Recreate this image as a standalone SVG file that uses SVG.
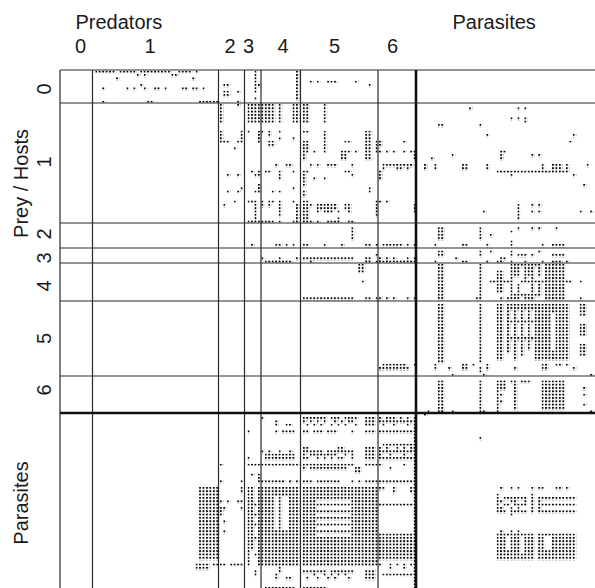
<svg xmlns="http://www.w3.org/2000/svg" width="595" height="588" viewBox="0 0 595 588">
<style>
text{font-family:"Liberation Sans",Arial,sans-serif;font-size:20px;fill:#1a1a1a}
.thin{stroke:#2a2a2a;stroke-width:1.2;fill:none}
.thick{stroke:#111;stroke-width:2.6;fill:none}
</style>
<defs>
<pattern id="dot" patternUnits="userSpaceOnUse" width="1" height="1"><rect width=".53" height=".55" fill="#000"/></pattern>
</defs>
<rect width="595" height="588" fill="#fff"/>
<g id="labels">
<text x="75.5" y="29">Predators</text>
<text x="452.5" y="29">Parasites</text>
<g text-anchor="middle">
<text x="80.5" y="53">0</text>
<text x="150" y="53">1</text>
<text x="230" y="53">2</text>
<text x="248.5" y="53">3</text>
<text x="283" y="53">4</text>
<text x="334.5" y="53">5</text>
<text x="392.5" y="53">6</text>
<text transform="translate(51,89) rotate(-90)">0</text>
<text transform="translate(51,162) rotate(-90)">1</text>
<text transform="translate(51,234) rotate(-90)">2</text>
<text transform="translate(51,258) rotate(-90)">3</text>
<text transform="translate(51,286) rotate(-90)">4</text>
<text transform="translate(51,338.5) rotate(-90)">5</text>
<text transform="translate(51,390) rotate(-90)">6</text>
<text transform="translate(28,183.5) rotate(-90)">Prey / Hosts</text>
<text transform="translate(28,503) rotate(-90)">Parasites</text>
</g>
</g>
<g id="interactions" transform="translate(60.7,70.7) scale(3.46,3.33)">
<path fill="url(#dot)" d="M10 0h6v1h-6zM17 0h5v1h-5zM23 0h9v1h-9zM34 0h4v1h-4zM39 0h1v1h-1zM22 1h1v1h-1zM24 1h1v1h-1zM32 1h2v1h-2zM16 2h1v1h-1zM38 2h1v1h-1zM23 4h1v1h-1zM12 5h1v1h-1zM19 5h1v1h-1zM21 5h1v1h-1zM24 5h1v1h-1zM27 5h2v1h-2zM30 5h1v1h-1zM35 5h2v1h-2zM38 5h2v1h-2zM41 5h1v1h-1zM12 9h1v1h-1zM25 9h2v1h-2zM40 9h6v1h-6zM47 4h2v1h-2zM47 6h2v2h-2zM51 6h1v1h-1zM51 9h1v2h-1zM56 0h1v7h-1zM56 8h1v1h-1zM57 4h1v1h-1zM68 0h1v9h-1zM72 3h1v1h-1zM74 3h1v1h-1zM77 3h3v1h-3zM85 3h1v1h-1zM89 4h1v1h-1z
M46 10h1v6h-1zM46 18h1v4h-1zM47 21h2v1h-2zM50 23h1v1h-1zM51 21h1v1h-1zM52 18h1v4h-1zM48 31h1v1h-1zM51 31h1v1h-1zM48 36h1v1h-1zM51 36h1v1h-1zM52 35h1v1h-1zM50 39h1v1h-1zM47 40h1v1h-1zM54 10h8v6h-8zM63 10h1v6h-1zM67 10h2v6h-2zM70 10h2v6h-2zM76 10h1v6h-1zM76 18h1v7h-1zM54 18h1v1h-1zM57 18h1v4h-1zM58 18h1v1h-1zM60 18h1v2h-1zM60 21h2v2h-2zM63 18h1v1h-1zM63 20h1v1h-1zM67 20h1v1h-1zM70 18h2v1h-2zM70 21h2v4h-2zM70 25h1v2h-1zM73 24h1v1h-1zM82 21h2v1h-2zM81 24h3v1h-3zM85 24h1v1h-1zM81 25h2v2h-2zM88 18h2v9h-2zM91 21h1v4h-1zM92 21h1v2h-1zM92 24h1v1h-1zM94 24h1v1h-1zM96 24h1v1h-1zM99 21h1v1h-1zM99 24h1v1h-1zM101 24h1v1h-1zM102 24h1v3h-1z
M62 28h1v1h-1zM65 28h2v1h-2zM72 28h1v1h-1zM74 28h1v1h-1zM77 28h3v1h-3zM84 28h1v1h-1zM93 28h9v1h-9zM93 29h1v1h-1zM97 29h2v1h-2zM100 29h1v1h-1zM55 30h1v1h-1zM57 30h1v1h-1zM59 30h2v1h-2zM63 30h1v3h-1zM67 30h1v1h-1zM70 30h2v1h-2zM82 30h2v1h-2zM92 30h1v3h-1zM56 31h2v1h-2zM70 31h1v4h-1zM84 31h1v1h-1zM73 32h1v1h-1zM76 32h1v1h-1zM57 34h1v3h-1zM56 36h1v1h-1zM61 36h1v1h-1zM63 36h1v1h-1zM67 35h1v1h-1zM70 36h1v2h-1zM89 35h1v2h-1z
M54 39h2v1h-2zM56 39h1v6h-1zM58 39h1v2h-1zM60 39h1v2h-1zM61 39h1v1h-1zM63 39h1v5h-1zM67 39h1v1h-1zM68 40h1v5h-1zM70 39h2v7h-2zM72 40h1v1h-1zM74 40h6v2h-6zM82 40h2v2h-2zM74 42h1v1h-1zM76 42h3v1h-3zM80 42h1v1h-1zM83 42h1v1h-1zM80 44h1v1h-1zM91 39h1v5h-1zM92 39h1v1h-1zM94 39h1v1h-1zM102 40h1v3h-1zM54 45h8v1h-8zM63 45h1v1h-1zM67 45h2v1h-2zM72 45h1v1h-1zM74 45h1v1h-1zM77 45h3v1h-3zM80 45h1v1h-1zM83 45h2v1h-2z
M118 11h1v1h-1zM132 11h1v1h-1zM134 11h1v1h-1zM130 14h1v1h-1zM132 14h1v1h-1zM134 14h1v2h-1zM109 16h2v1h-2zM121 16h1v1h-1zM123 19h1v1h-1zM148 19h1v1h-1zM147 21h1v1h-1zM127 24h2v1h-2zM127 25h1v2h-1zM113 25h1v1h-1zM136 25h1v1h-1zM138 25h1v1h-1zM107 26h1v1h-1zM105 28h1v2h-1zM108 28h1v2h-1zM116 28h2v2h-2zM123 28h1v2h-1zM139 28h1v2h-1zM142 28h3v2h-3zM146 28h1v2h-1zM152 28h1v1h-1zM126 30h21v1h-21zM130 31h1v1h-1zM148 31h1v1h-1zM151 34h1v1h-1zM132 40h1v5h-1zM136 40h1v1h-1zM138 40h1v1h-1zM136 42h1v1h-1zM138 42h1v1h-1zM122 42h1v1h-1zM150 42h1v1h-1zM153 42h1v1h-1z
M84 47h1v4h-1zM55 52h1v1h-1zM62 52h2v1h-2zM65 52h1v1h-1zM67 52h1v1h-1zM70 52h2v1h-2zM76 52h1v1h-1zM81 52h1v1h-1zM88 52h2v1h-2zM91 52h1v1h-1zM93 52h6v1h-6zM100 52h1v1h-1zM102 52h1v1h-1zM109 47h2v4h-2zM121 47h1v4h-1zM124 49h1v1h-1zM130 48h1v1h-1zM130 51h1v1h-1zM132 47h1v1h-1zM136 47h1v1h-1zM138 47h1v1h-1zM143 47h1v1h-1zM108 52h1v1h-1zM116 52h2v1h-2zM123 52h1v1h-1zM130 52h1v1h-1zM139 52h1v1h-1zM142 52h4v1h-4z
M58 56h1v1h-1zM63 56h1v1h-1zM68 56h1v1h-1zM70 56h15v1h-15zM88 56h2v1h-2zM92 56h1v1h-1zM94 56h1v1h-1zM96 56h1v1h-1zM100 56h1v1h-1zM102 56h1v1h-1zM59 57h8v1h-8zM72 57h1v1h-1zM88 57h2v1h-2zM91 57h12v1h-12zM91 55h1v1h-1zM109 54h2v2h-2zM121 54h1v2h-1zM114 56h1v1h-1zM124 54h1v1h-1zM130 54h1v2h-1zM132 55h3v1h-3zM136 55h1v1h-1zM138 54h1v1h-1zM142 55h4v1h-4zM127 56h2v1h-2zM108 57h1v1h-1zM116 57h2v1h-2zM123 57h1v1h-1zM126 57h2v1h-2zM130 57h1v1h-1zM134 57h1v1h-1zM139 57h1v1h-1zM142 57h3v1h-3zM146 57h1v1h-1z
M86 58h2v3h-2zM87 63h1v1h-1zM70 68h15v1h-15zM88 68h2v1h-2zM91 68h2v1h-2zM94 68h1v1h-1zM96 68h1v1h-1zM100 68h1v1h-1zM102 68h1v1h-1zM109 58h2v11h-2zM121 58h1v11h-1zM126 60h1v7h-1zM127 60h1v3h-1zM127 64h1v3h-1zM130 58h1v11h-1zM131 58h8v1h-8zM131 59h2v3h-2zM134 59h3v3h-3zM138 59h1v3h-1zM134 62h1v1h-1zM136 62h1v1h-1zM124 63h7v1h-7zM133 63h6v1h-6zM139 63h9v1h-9zM150 63h1v1h-1zM132 64h1v3h-1zM136 64h1v3h-1zM138 64h1v3h-1zM131 67h8v1h-8zM140 58h6v10h-6zM120 68h1v1h-1zM127 68h1v1h-1zM129 68h4v1h-4zM134 68h3v1h-3zM140 68h6v1h-6zM150 68h1v1h-1z
M93 88h7v1h-7zM92 89h9v1h-9zM102 88h1v1h-1zM109 70h2v18h-2zM121 70h1v18h-1zM126 70h2v17h-2zM129 70h1v15h-1zM130 70h9v2h-9zM131 72h1v15h-1zM133 72h1v14h-1zM135 72h1v12h-1zM137 72h2v15h-2zM130 75h8v1h-8zM130 80h8v1h-8zM139 70h3v17h-3zM143 70h4v17h-4zM142 70h1v3h-1zM142 84h1v3h-1zM150 70h2v4h-2zM150 76h2v4h-2zM150 82h2v4h-2zM108 88h1v2h-1zM112 89h1v1h-1zM116 88h2v2h-2zM119 88h1v1h-1zM121 89h1v2h-1zM123 88h1v2h-1zM131 89h1v1h-1zM139 88h2v2h-2zM143 88h2v1h-2zM146 88h1v1h-1zM148 89h1v1h-1zM113 91h1v1h-1zM122 91h1v1h-1zM153 91h1v1h-1z
M109 93h2v10h-2zM121 93h1v10h-1zM126 93h1v10h-1zM127 93h2v3h-2zM127 97h1v1h-1zM127 99h1v1h-1zM130 93h2v1h-2zM133 93h3v1h-3zM131 94h1v8h-1zM139 93h7v9h-7zM151 95h1v1h-1zM151 97h1v1h-1zM151 100h1v1h-1zM106 102h1v1h-1zM113 102h1v1h-1zM122 102h1v1h-1zM153 102h1v1h-1z
M40 125h6v22h-6zM39 148h4v2h-4zM44 148h2v1h-2zM46 118h1v1h-1zM46 123h1v1h-1zM52 123h1v1h-1zM46 129h1v1h-1zM48 129h1v1h-1zM51 129h2v1h-2zM47 131h1v1h-1zM46 131h1v3h-1zM47 135h1v1h-1zM47 138h1v1h-1zM52 125h1v2h-1zM52 131h1v1h-1zM46 148h2v1h-2zM49 148h4v1h-4z
M54 108h1v1h-1zM54 116h1v1h-1zM54 118h4v1h-4zM55 121h1v1h-1zM57 121h1v3h-1zM54 125h1v24h-1zM55 125h1v19h-1zM57 125h1v24h-1zM56 130h1v1h-1zM56 133h1v1h-1zM56 136h1v1h-1zM56 140h1v1h-1zM56 145h1v1h-1zM56 150h1v2h-1z
M58 104h1v1h-1zM62 105h1v2h-1zM65 106h2v1h-2zM62 108h1v1h-1zM64 108h4v1h-4zM58 114h1v1h-1zM60 114h1v1h-1zM63 114h1v1h-1zM66 114h1v1h-1zM59 115h9v2h-9zM58 118h11v1h-11zM58 123h7v1h-7zM66 123h1v1h-1zM68 123h1v1h-1zM58 125h4v24h-4zM62 125h4v3h-4zM63 128h1v10h-1zM62 138h4v11h-4zM66 125h3v24h-3zM63 149h1v2h-1zM62 151h1v2h-1zM65 152h2v1h-2zM59 155h9v1h-9z
M70 104h7v1h-7zM78 104h3v1h-3zM82 104h4v1h-4zM70 105h1v1h-1zM72 105h1v1h-1zM74 105h1v1h-1zM76 105h1v1h-1zM79 105h1v1h-1zM81 105h1v1h-1zM83 105h2v1h-2zM71 106h1v1h-1zM73 106h1v1h-1zM75 106h1v1h-1zM78 106h1v1h-1zM80 106h1v1h-1zM82 106h1v1h-1zM85 106h1v1h-1zM88 104h3v3h-3zM70 108h2v1h-2zM73 108h3v1h-3zM77 108h3v1h-3zM84 108h1v1h-1zM88 108h3v1h-3zM70 113h2v1h-2zM80 113h2v1h-2zM70 114h6v1h-6zM77 114h8v1h-8zM70 115h1v1h-1zM72 115h8v1h-8zM82 115h1v1h-1zM84 115h1v1h-1zM70 116h2v1h-2zM74 116h1v1h-1zM76 116h1v1h-1zM78 116h1v1h-1zM80 116h2v1h-2zM84 116h1v1h-1zM88 113h3v4h-3zM70 118h15v1h-15zM88 118h4v1h-4zM70 119h1v1h-1zM72 119h11v1h-11zM85 119h2v2h-2zM70 123h3v1h-3zM74 123h7v1h-7zM84 123h1v1h-1zM86 123h1v1h-1zM88 123h4v1h-4zM70 125h22v3h-22zM70 128h4v12h-4zM74 128h10v1h-10zM74 130h10v1h-10zM74 132h10v1h-10zM74 134h10v1h-10zM74 136h10v1h-10zM74 138h10v1h-10zM84 128h8v12h-8zM70 140h22v9h-22zM70 150h7v1h-7zM78 150h7v1h-7zM88 150h3v3h-3zM73 151h1v1h-1zM76 151h1v1h-1zM78 151h1v1h-1zM80 151h1v1h-1zM82 151h1v1h-1zM71 152h1v1h-1zM74 152h1v1h-1zM77 152h1v1h-1zM79 152h1v1h-1zM83 152h1v1h-1zM70 155h7v1h-7z
M92 104h1v1h-1zM94 104h3v1h-3zM98 104h1v1h-1zM100 104h1v1h-1zM92 105h10v1h-10zM93 106h1v1h-1zM96 106h1v1h-1zM100 106h1v1h-1zM92 108h10v1h-10zM93 112h9v1h-9zM92 113h1v1h-1zM94 113h1v1h-1zM97 113h1v1h-1zM99 113h1v1h-1zM101 113h1v1h-1zM92 114h10v1h-10zM92 115h1v1h-1zM95 115h1v1h-1zM99 115h1v1h-1zM92 116h10v1h-10zM92 118h1v1h-1zM95 119h1v1h-1zM99 118h1v1h-1zM92 123h10v1h-10zM92 125h2v1h-2zM96 125h1v2h-1zM101 125h1v2h-1zM92 130h10v1h-10zM92 139h10v8h-10zM92 148h1v1h-1zM95 148h1v2h-1zM97 148h1v1h-1zM99 148h1v2h-1zM101 148h1v1h-1zM93 151h9v1h-9zM102 104h1v52h-1z
M105 103h1v1h-1zM121 110h1v1h-1zM127 125h1v1h-1zM130 125h1v1h-1zM132 125h1v1h-1zM136 125h1v1h-1zM138 125h2v1h-2zM143 125h2v1h-2zM146 125h1v1h-1zM126 127h1v1h-1zM136 127h1v1h-1zM126 128h1v1h-1zM128 128h7v1h-7zM136 128h1v1h-1zM138 128h11v1h-11zM126 129h2v1h-2zM130 129h2v1h-2zM134 129h1v1h-1zM136 129h1v1h-1zM138 129h1v1h-1zM126 130h1v1h-1zM128 130h2v1h-2zM131 130h4v1h-4zM136 130h1v1h-1zM138 130h11v1h-11zM126 131h2v1h-2zM130 131h1v1h-1zM132 131h1v1h-1zM136 131h1v1h-1zM138 131h1v1h-1zM126 132h3v1h-3zM130 132h5v1h-5zM136 132h1v1h-1zM138 132h11v1h-11zM130 133h1v1h-1z
M127 138h1v1h-1zM130 138h1v1h-1zM132 138h1v1h-1zM126 139h3v8h-3zM129 139h1v1h-1zM129 144h1v3h-1zM130 139h3v8h-3zM133 139h1v1h-1zM133 145h1v2h-1zM134 139h3v8h-3zM138 139h2v8h-2zM140 139h2v1h-2zM140 144h2v3h-2zM142 139h7v8h-7z"/>
</g>
<g id="grid">
<path class="thin" d="M60 70H595M60 103H595M60 223H595M60 248H595M60 263H595M60 301H595M60 376H595M60 70V588M92.5 70V588M218.5 70V588M244.5 70V588M261 70V588M300.5 70V588M378 70V588"/>
<path class="thick" d="M60 413H595M416 70V588"/>
</g>
</svg>
